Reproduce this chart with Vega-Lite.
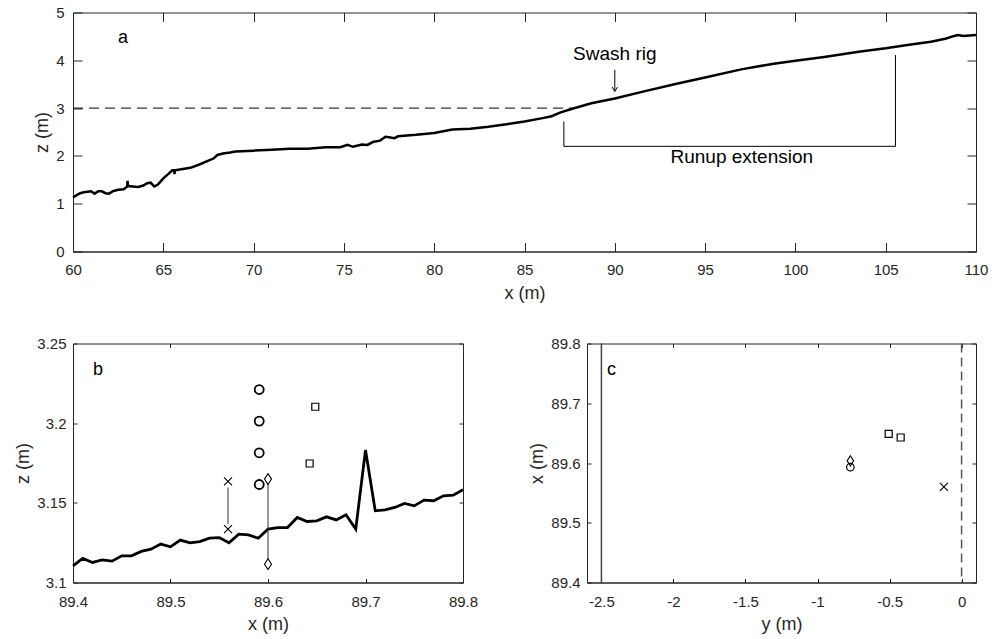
{
  "$schema": "https://vega.github.io/schema/vega-lite/v6.json",
  "background": "white",
  "padding": {"left": 14, "top": 4.5, "right": 5.5, "bottom": 6},
  "bounds": "flush",
  "spacing": 92,
  "datasets": {
    "profile": [
      {"x": 60.0, "z": 1.13}, {"x": 60.2, "z": 1.18}, {"x": 60.4, "z": 1.22}, {"x": 60.6, "z": 1.24},
      {"x": 60.8, "z": 1.25}, {"x": 61.0, "z": 1.26}, {"x": 61.2, "z": 1.21}, {"x": 61.4, "z": 1.26},
      {"x": 61.6, "z": 1.26}, {"x": 61.8, "z": 1.22}, {"x": 62.0, "z": 1.21}, {"x": 62.2, "z": 1.26},
      {"x": 62.5, "z": 1.29}, {"x": 62.8, "z": 1.3}, {"x": 63.0, "z": 1.36}, {"x": 63.02, "z": 1.48},
      {"x": 63.05, "z": 1.37}, {"x": 63.3, "z": 1.36}, {"x": 63.6, "z": 1.35}, {"x": 63.9, "z": 1.38},
      {"x": 64.1, "z": 1.43}, {"x": 64.3, "z": 1.44}, {"x": 64.5, "z": 1.36}, {"x": 64.7, "z": 1.4},
      {"x": 65.0, "z": 1.53}, {"x": 65.3, "z": 1.63}, {"x": 65.5, "z": 1.7}, {"x": 65.6, "z": 1.7},
      {"x": 65.62, "z": 1.62}, {"x": 65.65, "z": 1.7}, {"x": 66.0, "z": 1.72}, {"x": 66.5, "z": 1.75},
      {"x": 67.0, "z": 1.82}, {"x": 67.5, "z": 1.9}, {"x": 67.8, "z": 1.95}, {"x": 68.0, "z": 2.02},
      {"x": 68.3, "z": 2.05}, {"x": 68.7, "z": 2.07}, {"x": 69.0, "z": 2.09}, {"x": 70.0, "z": 2.11},
      {"x": 71.0, "z": 2.13}, {"x": 72.0, "z": 2.15}, {"x": 73.0, "z": 2.15}, {"x": 74.0, "z": 2.18},
      {"x": 74.8, "z": 2.18}, {"x": 75.2, "z": 2.23}, {"x": 75.5, "z": 2.19}, {"x": 76.0, "z": 2.24},
      {"x": 76.3, "z": 2.23}, {"x": 76.6, "z": 2.29}, {"x": 77.0, "z": 2.32}, {"x": 77.3, "z": 2.4},
      {"x": 77.5, "z": 2.39}, {"x": 77.8, "z": 2.37}, {"x": 78.0, "z": 2.41}, {"x": 79.0, "z": 2.44},
      {"x": 80.0, "z": 2.48}, {"x": 81.0, "z": 2.55}, {"x": 82.0, "z": 2.57}, {"x": 83.0, "z": 2.61},
      {"x": 84.0, "z": 2.66}, {"x": 85.0, "z": 2.72}, {"x": 86.0, "z": 2.79}, {"x": 86.5, "z": 2.83},
      {"x": 87.0, "z": 2.91}, {"x": 87.6, "z": 2.98}, {"x": 88.7, "z": 3.1}, {"x": 90.0, "z": 3.2},
      {"x": 91.5, "z": 3.34}, {"x": 93.3, "z": 3.5}, {"x": 95.0, "z": 3.64}, {"x": 97.0, "z": 3.81},
      {"x": 98.8, "z": 3.93}, {"x": 100.0, "z": 3.99}, {"x": 101.6, "z": 4.07}, {"x": 103.5, "z": 4.18},
      {"x": 105.0, "z": 4.25}, {"x": 106.2, "z": 4.32}, {"x": 107.5, "z": 4.39}, {"x": 108.3, "z": 4.45},
      {"x": 108.8, "z": 4.51}, {"x": 109.0, "z": 4.53}, {"x": 109.3, "z": 4.51}, {"x": 110.0, "z": 4.53}
    ],
    "dashline": [{"x": 60, "x2": 87.6, "z": 3}],
    "bracket": [
      {"x": 87.18, "x2": 87.18, "z": 2.72, "z2": 2.2},
      {"x": 87.18, "x2": 105.54, "z": 2.2, "z2": 2.2},
      {"x": 105.54, "x2": 105.54, "z": 2.2, "z2": 4.11},
      {"x": 90.0, "x2": 90.0, "z": 3.8, "z2": 3.35}
    ],
    "arrowhead": [{"x": 90.0, "z": 3.35}],
    "textA": [
      {"x": 62.77, "z": 4.46, "label": "a", "size": 18},
      {"x": 90.0, "z": 4.13, "label": "Swash rig", "size": 19},
      {"x": 97.03, "z": 1.97, "label": "Runup extension", "size": 19}
    ],
    "fine": [
      {"xpos": 89.40, "z": 3.1105}, {"xpos": 89.41, "z": 3.1151}, {"xpos": 89.42, "z": 3.1126},
      {"xpos": 89.43, "z": 3.1142}, {"xpos": 89.44, "z": 3.1134}, {"xpos": 89.45, "z": 3.1167},
      {"xpos": 89.46, "z": 3.1167}, {"xpos": 89.47, "z": 3.1195}, {"xpos": 89.48, "z": 3.1209},
      {"xpos": 89.49, "z": 3.1241}, {"xpos": 89.50, "z": 3.1224}, {"xpos": 89.51, "z": 3.1266},
      {"xpos": 89.52, "z": 3.1249}, {"xpos": 89.53, "z": 3.1257}, {"xpos": 89.54, "z": 3.1278},
      {"xpos": 89.55, "z": 3.1282}, {"xpos": 89.56, "z": 3.1249}, {"xpos": 89.57, "z": 3.1303},
      {"xpos": 89.58, "z": 3.1299}, {"xpos": 89.59, "z": 3.1278}, {"xpos": 89.60, "z": 3.1335},
      {"xpos": 89.61, "z": 3.1345}, {"xpos": 89.62, "z": 3.1345}, {"xpos": 89.63, "z": 3.1408},
      {"xpos": 89.64, "z": 3.1383}, {"xpos": 89.65, "z": 3.1387}, {"xpos": 89.66, "z": 3.1412},
      {"xpos": 89.67, "z": 3.1393}, {"xpos": 89.68, "z": 3.1425}, {"xpos": 89.69, "z": 3.1335},
      {"xpos": 89.70, "z": 3.1831}, {"xpos": 89.71, "z": 3.145}, {"xpos": 89.72, "z": 3.1456},
      {"xpos": 89.73, "z": 3.1471}, {"xpos": 89.74, "z": 3.1496}, {"xpos": 89.75, "z": 3.1481},
      {"xpos": 89.76, "z": 3.1517}, {"xpos": 89.77, "z": 3.1513}, {"xpos": 89.78, "z": 3.1544},
      {"xpos": 89.79, "z": 3.1548}, {"xpos": 89.80, "z": 3.1582}
    ],
    "bars": [
      {"xpos": 89.559, "z": 3.1366, "z2": 3.1596},
      {"xpos": 89.6, "z": 3.114, "z2": 3.163}
    ],
    "sensors": [
      {"kind": "circle", "xpos": 89.591, "z": 3.2211},
      {"kind": "circle", "xpos": 89.591, "z": 3.2013},
      {"kind": "circle", "xpos": 89.591, "z": 3.1814},
      {"kind": "circle", "xpos": 89.591, "z": 3.1615},
      {"kind": "square", "xpos": 89.6485, "z": 3.2103},
      {"kind": "square", "xpos": 89.6427, "z": 3.1747},
      {"kind": "x", "xpos": 89.559, "z": 3.1634},
      {"kind": "x", "xpos": 89.559, "z": 3.1335},
      {"kind": "diamond", "xpos": 89.6, "z": 3.1649},
      {"kind": "diamond", "xpos": 89.6, "z": 3.1115}
    ],
    "plan": [
      {"kind": "circle", "ypos": -0.772, "xpos": 89.593},
      {"kind": "diamond", "ypos": -0.772, "xpos": 89.6036},
      {"kind": "square", "ypos": -0.506, "xpos": 89.6488},
      {"kind": "square", "ypos": -0.423, "xpos": 89.6427},
      {"kind": "x", "ypos": -0.123, "xpos": 89.56}
    ],
    "walls": [
      {"ypos": -2.5, "style": "solid"},
      {"ypos": 0, "style": "dashed"}
    ],
    "textB": [{"xpos": 89.4256, "z": 3.2333, "label": "b"}],
    "textC": [{"ypos": -2.43, "xpos": 89.756, "label": "c"}]
  },
  "vconcat": [
    {
      "width": 903,
      "height": 239,
      "layer": [
        {
          "data": {"name": "profile"},
          "mark": {"type": "line", "color": "black", "strokeWidth": 2.5},
          "encoding": {
            "x": {"field": "x", "type": "quantitative", "scale": {"domain": [60, 110], "nice": false, "zero": false},
              "axis": {"orient": "bottom", "title": "x (m)", "values": [60, 65, 70, 75, 80, 85, 90, 95, 100, 105, 110], "tickSize": -9, "labelPadding": 20, "titlePadding": 7, "labelExpr": "'' + datum.value"}},
            "y": {"field": "z", "type": "quantitative", "scale": {"domain": [0, 5], "nice": false, "zero": false},
              "axis": {"orient": "left", "title": "z (m)", "values": [0, 1, 2, 3, 4, 5], "tickSize": -9, "labelPadding": 18, "titlePadding": 4, "labelExpr": "'' + datum.value"}}
          }
        },
        {
          "data": {"name": "profile"},
          "mark": {"type": "point", "opacity": 0},
          "encoding": {
            "x": {"field": "x", "type": "quantitative", "scale": {"domain": [60, 110], "nice": false, "zero": false},
              "axis": {"orient": "top", "labels": false, "title": null, "domain": false, "values": [60, 65, 70, 75, 80, 85, 90, 95, 100, 105, 110], "tickSize": -9}},
            "y": {"field": "z", "type": "quantitative", "scale": {"domain": [0, 5], "nice": false, "zero": false},
              "axis": {"orient": "right", "labels": false, "title": null, "domain": false, "values": [0, 1, 2, 3, 4, 5], "tickSize": -9}}
          }
        },
        {
          "data": {"name": "dashline"},
          "mark": {"type": "rule", "color": "black", "strokeWidth": 1, "strokeDash": [10, 6]},
          "encoding": {
            "x": {"field": "x", "type": "quantitative", "scale": {"domain": [60, 110], "nice": false, "zero": false}, "axis": null},
            "x2": {"field": "x2"},
            "y": {"field": "z", "type": "quantitative", "scale": {"domain": [0, 5], "nice": false, "zero": false}, "axis": null}
          }
        },
        {
          "data": {"name": "bracket"},
          "mark": {"type": "rule", "color": "black", "strokeWidth": 1},
          "encoding": {
            "x": {"field": "x", "type": "quantitative", "scale": {"domain": [60, 110], "nice": false, "zero": false}, "axis": null},
            "x2": {"field": "x2"},
            "y": {"field": "z", "type": "quantitative", "scale": {"domain": [0, 5], "nice": false, "zero": false}, "axis": null},
            "y2": {"field": "z2"}
          }
        },
        {
          "data": {"name": "arrowhead"},
          "mark": {"type": "point", "shape": "M-1,-1.6L0,0L1,-1.6", "size": 30, "filled": false, "color": "black", "strokeWidth": 1, "opacity": 1},
          "encoding": {
            "x": {"field": "x", "type": "quantitative", "scale": {"domain": [60, 110], "nice": false, "zero": false}, "axis": null},
            "y": {"field": "z", "type": "quantitative", "scale": {"domain": [0, 5], "nice": false, "zero": false}, "axis": null}
          }
        },
        {
          "data": {"name": "textA"},
          "mark": {"type": "text", "font": "Liberation Sans", "color": "black", "align": "center", "baseline": "middle"},
          "encoding": {
            "x": {"field": "x", "type": "quantitative", "scale": {"domain": [60, 110], "nice": false, "zero": false}, "axis": null},
            "y": {"field": "z", "type": "quantitative", "scale": {"domain": [0, 5], "nice": false, "zero": false}, "axis": null},
            "text": {"field": "label"},
            "size": {"field": "size", "type": "quantitative", "scale": null}
          }
        }
      ],
      "resolve": {"axis": {"x": "independent", "y": "independent"}}
    },
    {
      "hconcat": [
        {
          "width": 390,
          "height": 239,
          "layer": [
            {
              "data": {"name": "fine"},
              "mark": {"type": "line", "color": "black", "strokeWidth": 2.8},
              "encoding": {
                "x": {"field": "xpos", "type": "quantitative", "scale": {"domain": [89.4, 89.8], "nice": false, "zero": false},
                  "axis": {"orient": "bottom", "title": "x (m)", "values": [89.4, 89.5, 89.6, 89.7, 89.8], "tickSize": -4, "labelPadding": 15.5, "titlePadding": 6.5, "labelExpr": "'' + datum.value"}},
                "y": {"field": "z", "type": "quantitative", "scale": {"domain": [3.1, 3.25], "nice": false, "zero": false},
                  "axis": {"orient": "left", "title": "z (m)", "values": [3.1, 3.15, 3.2, 3.25], "tickSize": -4, "labelPadding": 11, "titlePadding": 4, "labelExpr": "'' + datum.value"}}
              }
            },
            {
              "data": {"name": "fine"},
              "mark": {"type": "point", "opacity": 0},
              "encoding": {
                "x": {"field": "xpos", "type": "quantitative", "scale": {"domain": [89.4, 89.8], "nice": false, "zero": false},
                  "axis": {"orient": "top", "labels": false, "title": null, "domain": false, "values": [89.4, 89.5, 89.6, 89.7, 89.8], "tickSize": -4}},
                "y": {"field": "z", "type": "quantitative", "scale": {"domain": [3.1, 3.25], "nice": false, "zero": false},
                  "axis": {"orient": "right", "labels": false, "title": null, "domain": false, "values": [3.1, 3.15, 3.2, 3.25], "tickSize": -4}}
              }
            },
            {
              "data": {"name": "bars"},
              "mark": {"type": "rule", "color": "#333", "strokeWidth": 1},
              "encoding": {
                "x": {"field": "xpos", "type": "quantitative", "scale": {"domain": [89.4, 89.8], "nice": false, "zero": false}, "axis": null},
                "y": {"field": "z", "type": "quantitative", "scale": {"domain": [3.1, 3.25], "nice": false, "zero": false}, "axis": null},
                "y2": {"field": "z2"}
              }
            },
            {
              "data": {"name": "sensors"},
              "transform": [{"filter": "datum.kind == 'circle'"}],
              "mark": {"type": "point", "shape": "circle", "size": 81, "filled": false, "color": "black", "strokeWidth": 1.8, "opacity": 1},
              "encoding": {
                "x": {"field": "xpos", "type": "quantitative", "scale": {"domain": [89.4, 89.8], "nice": false, "zero": false}, "axis": null},
                "y": {"field": "z", "type": "quantitative", "scale": {"domain": [3.1, 3.25], "nice": false, "zero": false}, "axis": null}
              }
            },
            {
              "data": {"name": "sensors"},
              "transform": [{"filter": "datum.kind == 'square'"}],
              "mark": {"type": "point", "shape": "square", "size": 49, "filled": false, "color": "black", "strokeWidth": 1.2, "opacity": 1},
              "encoding": {
                "x": {"field": "xpos", "type": "quantitative", "scale": {"domain": [89.4, 89.8], "nice": false, "zero": false}, "axis": null},
                "y": {"field": "z", "type": "quantitative", "scale": {"domain": [3.1, 3.25], "nice": false, "zero": false}, "axis": null}
              }
            },
            {
              "data": {"name": "sensors"},
              "transform": [{"filter": "datum.kind == 'x'"}],
              "mark": {"type": "point", "shape": "M-1,-1L1,1M-1,1L1,-1", "size": 64, "filled": false, "color": "black", "strokeWidth": 1.1, "opacity": 1},
              "encoding": {
                "x": {"field": "xpos", "type": "quantitative", "scale": {"domain": [89.4, 89.8], "nice": false, "zero": false}, "axis": null},
                "y": {"field": "z", "type": "quantitative", "scale": {"domain": [3.1, 3.25], "nice": false, "zero": false}, "axis": null}
              }
            },
            {
              "data": {"name": "sensors"},
              "transform": [{"filter": "datum.kind == 'diamond'"}],
              "mark": {"type": "point", "shape": "M0,-1.55L1,0L0,1.55L-1,0Z", "size": 49, "filled": true, "fill": "white", "stroke": "black", "strokeWidth": 1.1, "opacity": 1},
              "encoding": {
                "x": {"field": "xpos", "type": "quantitative", "scale": {"domain": [89.4, 89.8], "nice": false, "zero": false}, "axis": null},
                "y": {"field": "z", "type": "quantitative", "scale": {"domain": [3.1, 3.25], "nice": false, "zero": false}, "axis": null}
              }
            },
            {
              "data": {"name": "textB"},
              "mark": {"type": "text", "font": "Liberation Sans", "fontSize": 18, "color": "black", "align": "center", "baseline": "middle"},
              "encoding": {
                "x": {"field": "xpos", "type": "quantitative", "scale": {"domain": [89.4, 89.8], "nice": false, "zero": false}, "axis": null},
                "y": {"field": "z", "type": "quantitative", "scale": {"domain": [3.1, 3.25], "nice": false, "zero": false}, "axis": null},
                "text": {"field": "label"}
              }
            }
          ],
          "resolve": {"axis": {"x": "independent", "y": "independent"}}
        },
        {
          "width": 389,
          "height": 239,
          "layer": [
            {
              "data": {"name": "plan"},
              "transform": [{"filter": "datum.kind == 'circle'"}],
              "mark": {"type": "point", "shape": "circle", "size": 56, "filled": false, "color": "black", "strokeWidth": 1.2, "opacity": 1},
              "encoding": {
                "x": {"field": "ypos", "type": "quantitative", "scale": {"domain": [-2.6, 0.1], "nice": false, "zero": false},
                  "axis": {"orient": "bottom", "title": "y (m)", "values": [-2.5, -2, -1.5, -1, -0.5, 0], "tickSize": -4, "labelPadding": 15.5, "titlePadding": 6.5, "labelExpr": "'' + datum.value"}},
                "y": {"field": "xpos", "type": "quantitative", "scale": {"domain": [89.4, 89.8], "nice": false, "zero": false},
                  "axis": {"orient": "left", "title": "x (m)", "values": [89.4, 89.5, 89.6, 89.7, 89.8], "tickSize": -4, "labelPadding": 11, "titlePadding": 4, "labelExpr": "'' + datum.value"}}
              }
            },
            {
              "data": {"name": "plan"},
              "mark": {"type": "point", "opacity": 0},
              "encoding": {
                "x": {"field": "ypos", "type": "quantitative", "scale": {"domain": [-2.6, 0.1], "nice": false, "zero": false},
                  "axis": {"orient": "top", "labels": false, "title": null, "domain": false, "values": [-2.5, -2, -1.5, -1, -0.5, 0], "tickSize": -4}},
                "y": {"field": "xpos", "type": "quantitative", "scale": {"domain": [89.4, 89.8], "nice": false, "zero": false},
                  "axis": {"orient": "right", "labels": false, "title": null, "domain": false, "values": [89.4, 89.5, 89.6, 89.7, 89.8], "tickSize": -4}}
              }
            },
            {
              "data": {"name": "walls"},
              "transform": [{"filter": "datum.style == 'solid'"}],
              "mark": {"type": "rule", "color": "#444", "strokeWidth": 1.5},
              "encoding": {
                "x": {"field": "ypos", "type": "quantitative", "scale": {"domain": [-2.6, 0.1], "nice": false, "zero": false}, "axis": null}
              }
            },
            {
              "data": {"name": "walls"},
              "transform": [{"filter": "datum.style == 'dashed'"}],
              "mark": {"type": "rule", "color": "#555", "strokeWidth": 1.5, "strokeDash": [9, 5]},
              "encoding": {
                "x": {"field": "ypos", "type": "quantitative", "scale": {"domain": [-2.6, 0.1], "nice": false, "zero": false}, "axis": null}
              }
            },
            {
              "data": {"name": "plan"},
              "transform": [{"filter": "datum.kind == 'diamond'"}],
              "mark": {"type": "point", "shape": "M0,-1.55L1,0L0,1.55L-1,0Z", "size": 42, "filled": false, "color": "black", "strokeWidth": 1.1, "opacity": 1},
              "encoding": {
                "x": {"field": "ypos", "type": "quantitative", "scale": {"domain": [-2.6, 0.1], "nice": false, "zero": false}, "axis": null},
                "y": {"field": "xpos", "type": "quantitative", "scale": {"domain": [89.4, 89.8], "nice": false, "zero": false}, "axis": null}
              }
            },
            {
              "data": {"name": "plan"},
              "transform": [{"filter": "datum.kind == 'square'"}],
              "mark": {"type": "point", "shape": "square", "size": 49, "filled": false, "color": "black", "strokeWidth": 1.2, "opacity": 1},
              "encoding": {
                "x": {"field": "ypos", "type": "quantitative", "scale": {"domain": [-2.6, 0.1], "nice": false, "zero": false}, "axis": null},
                "y": {"field": "xpos", "type": "quantitative", "scale": {"domain": [89.4, 89.8], "nice": false, "zero": false}, "axis": null}
              }
            },
            {
              "data": {"name": "plan"},
              "transform": [{"filter": "datum.kind == 'x'"}],
              "mark": {"type": "point", "shape": "M-1,-1L1,1M-1,1L1,-1", "size": 64, "filled": false, "color": "black", "strokeWidth": 1.1, "opacity": 1},
              "encoding": {
                "x": {"field": "ypos", "type": "quantitative", "scale": {"domain": [-2.6, 0.1], "nice": false, "zero": false}, "axis": null},
                "y": {"field": "xpos", "type": "quantitative", "scale": {"domain": [89.4, 89.8], "nice": false, "zero": false}, "axis": null}
              }
            },
            {
              "data": {"name": "textC"},
              "mark": {"type": "text", "font": "Liberation Sans", "fontSize": 18, "color": "black", "align": "center", "baseline": "middle"},
              "encoding": {
                "x": {"field": "ypos", "type": "quantitative", "scale": {"domain": [-2.6, 0.1], "nice": false, "zero": false}, "axis": null},
                "y": {"field": "xpos", "type": "quantitative", "scale": {"domain": [89.4, 89.8], "nice": false, "zero": false}, "axis": null},
                "text": {"field": "label"}
              }
            }
          ],
          "resolve": {"axis": {"x": "independent", "y": "independent"}}
        }
      ],
      "spacing": 124,
      "bounds": "flush"
    }
  ],
  "config": {
    "font": "Liberation Sans",
    "view": {"stroke": "#262626", "strokeWidth": 1},
    "axis": {
      "labelFont": "Liberation Sans", "titleFont": "Liberation Sans",
      "labelFontSize": 15, "titleFontSize": 18, "titleFontWeight": "normal",
      "labelColor": "#262626", "titleColor": "#262626",
      "domainColor": "#262626", "tickColor": "#262626",
      "grid": false, "labelFlush": false, "labelOverlap": false, "labelBound": false
    }
  }
}
